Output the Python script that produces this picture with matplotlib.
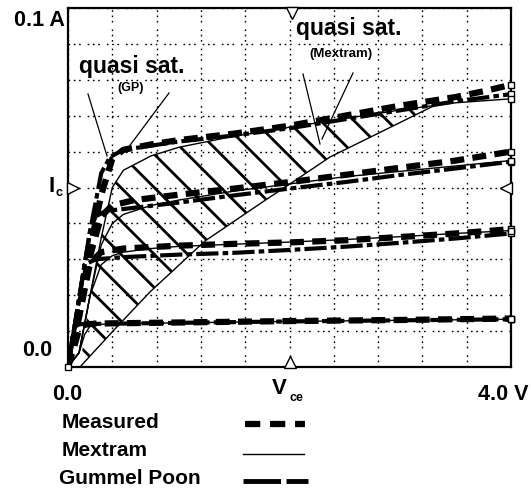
import numpy as np
import matplotlib
matplotlib.use("Agg")
import matplotlib.pyplot as plt

plt.rcParams['font.family'] = ['Liberation Sans', 'DejaVu Sans']
plt.rcParams['font.weight'] = 'bold'
plt.rcParams['lines.scale_dashes'] = False
plt.rcParams['hatch.linewidth'] = 2.0
plt.rcParams['hatch.color'] = 'black'

# Ic(Vce) curves, four base currents (A = lowest ... D = highest)
meas_a_v = [0, 0.05, 0.1, 0.15, 0.25, 0.5, 1.0, 2.0, 3.0, 4.0]
meas_a_i = [0, 0.005, 0.0105, 0.0118, 0.0121, 0.0122, 0.0124, 0.0128, 0.0131, 0.0135]
meas_b_v = [0, 0.1, 0.2, 0.3, 0.5, 1.0, 1.5, 2.0, 2.5, 3.0, 3.5, 4.0]
meas_b_i = [0, 0.014, 0.029, 0.032, 0.033, 0.0338, 0.0343, 0.0347, 0.0353, 0.0362, 0.0372, 0.0384]
meas_c_v = [0, 0.1, 0.2, 0.3, 0.4, 0.6, 1.0, 1.5, 2.0, 2.5, 3.0, 3.5, 4.0]
meas_c_i = [0, 0.014, 0.031, 0.042, 0.045, 0.0465, 0.048, 0.0497, 0.0515, 0.0535, 0.0555, 0.0575, 0.060]
meas_d_v = [0, 0.1, 0.2, 0.3, 0.4, 0.5, 0.75, 1.0, 1.5, 2.0, 2.5, 3.0, 3.5, 3.75, 4.0]
meas_d_i = [0, 0.016, 0.033, 0.048, 0.058, 0.0605, 0.062, 0.0632, 0.065, 0.0672, 0.070, 0.0728, 0.0752, 0.0768, 0.0786]

mex_a_v = [0, 0.1, 0.15, 0.2, 0.3, 0.5, 1.0, 2.0, 3.0, 4.0]
mex_a_i = [0, 0.004, 0.009, 0.0115, 0.0119, 0.0121, 0.0123, 0.0127, 0.0130, 0.0133]
mex_b_v = [0, 0.1, 0.2, 0.3, 0.4, 0.5, 0.75, 1.0, 1.5, 2.0, 2.5, 3.0, 3.5, 4.0]
mex_b_i = [0, 0.004, 0.02, 0.0285, 0.031, 0.032, 0.033, 0.0336, 0.0342, 0.0348, 0.0355, 0.0363, 0.0372, 0.038]
mex_c_v = [0, 0.1, 0.2, 0.3, 0.4, 0.5, 0.75, 1.0, 1.5, 2.0, 2.5, 3.0, 3.5, 4.0]
mex_c_i = [0, 0.004, 0.02, 0.034, 0.040, 0.0425, 0.045, 0.0465, 0.049, 0.051, 0.053, 0.0545, 0.056, 0.0575]
mex_d_v = [0, 0.1, 0.2, 0.3, 0.4, 0.5, 0.75, 1.0, 1.5, 2.0, 2.5, 3.0, 3.5, 4.0]
mex_d_i = [0, 0.004, 0.02, 0.036, 0.050, 0.0548, 0.0588, 0.0612, 0.0643, 0.0668, 0.0692, 0.0716, 0.0736, 0.0747]

gp_a_v = [0, 0.06, 0.1, 0.2, 0.5, 1.0, 2.0, 3.0, 4.0]
gp_a_i = [0, 0.0112, 0.0119, 0.012, 0.0121, 0.0123, 0.0127, 0.013, 0.0133]
gp_b_v = [0, 0.15, 0.25, 0.5, 1.0, 1.5, 2.0, 2.5, 3.0, 3.5, 4.0]
gp_b_i = [0, 0.0285, 0.030, 0.0306, 0.0313, 0.0318, 0.0326, 0.0335, 0.0346, 0.0358, 0.0372]
gp_c_v = [0, 0.1, 0.2, 0.25, 0.35, 0.5, 1.0, 1.5, 2.0, 2.5, 3.0, 3.5, 4.0]
gp_c_i = [0, 0.019, 0.038, 0.042, 0.0435, 0.044, 0.0458, 0.0478, 0.0497, 0.0515, 0.0535, 0.0553, 0.0572]
gp_d_v = [0, 0.1, 0.2, 0.3, 0.38, 0.5, 1.0, 1.5, 2.0, 2.5, 3.0, 3.5, 4.0]
gp_d_i = [0, 0.019, 0.038, 0.054, 0.0585, 0.0605, 0.0628, 0.0645, 0.0665, 0.069, 0.0715, 0.074, 0.076]

# lower edge of the Mextram quasi-saturation region
qs_v = [0.108, 0.424, 0.740, 1.237, 1.797, 2.005, 2.366, 2.880, 3.30]
qs_i = [0.0, 0.0106, 0.0209, 0.0351, 0.0468, 0.051, 0.0585, 0.0663, 0.0727]

fig = plt.figure(figsize=(5.31, 4.89), dpi=100)
ax = fig.add_axes([68/531, 1-368/489, 443/531, 359/489])
ax.set_xlim(0, 4.0)
ax.set_ylim(0, 0.1)
ax.set_xticks(np.arange(0, 4.01, 0.4))
ax.set_yticks(np.arange(0, 0.1001, 0.01))
ax.tick_params(length=0, labelbottom=False, labelleft=False)
ax.grid(True, color='black', lw=1.0, linestyle=(0, (1.2, 2.6, 1.2, 2.6, 1.2, 5)))
for s in ax.spines.values():
    s.set_linewidth(1.6)

# hatched quasi-saturation region
up_v = [v for v in mex_d_v if qs_v[0] < v < qs_v[-1]]
up_i = [i for v, i in zip(mex_d_v, mex_d_i) if qs_v[0] < v < qs_v[-1]]
poly_v = [qs_v[0]] + up_v + qs_v[::-1]
poly_i = [qs_i[0]] + up_i + qs_i[::-1]
ax.fill(poly_v, poly_i, facecolor='none', edgecolor='black', lw=0, hatch='\\', zorder=1)
ax.plot(qs_v, qs_i, color='black', lw=1.0, zorder=2)

meas = [(meas_a_v, meas_a_i), (meas_b_v, meas_b_i), (meas_c_v, meas_c_i), (meas_d_v, meas_d_i)]
mex = [(mex_a_v, mex_a_i), (mex_b_v, mex_b_i), (mex_c_v, mex_c_i), (mex_d_v, mex_d_i)]
gp = [(gp_a_v, gp_a_i), (gp_b_v, gp_b_i), (gp_c_v, gp_c_i), (gp_d_v, gp_d_i)]

for v, i in gp:
    ax.plot(v, i, color='black', lw=3.0, dashes=(16, 3, 4, 3), zorder=3)
    ax.plot(v[-1], i[-1], 's', ms=5, mfc='white', mec='black', mew=1, clip_on=False, zorder=6)
for v, i in meas:
    ax.plot(v, i, color='black', lw=4.5, dashes=(10, 6), zorder=4)
    ax.plot(v[-1], i[-1], 's', ms=5, mfc='white', mec='black', mew=1, clip_on=False, zorder=6)
for v, i in mex:
    ax.plot(v, i, color='black', lw=1.0, zorder=5)
    ax.plot(v[-1], i[-1], 's', ms=5, mfc='white', mec='black', mew=1, clip_on=False, zorder=6)
ax.plot(0, 0, 's', ms=5, mfc='white', mec='black', mew=1, clip_on=False, zorder=6)

# mid-scale triangle marks on the frame
tri = dict(ms=8, mfc='white', mec='black', mew=1, clip_on=False, transform=ax.transAxes, zorder=7)
ax.plot(0.012, 0.5, '>', **tri)
ax.plot(0.988, 0.5, '<', **tri)
ax.plot(0.505, 0.985, 'v', **tri)
ax.plot(0.5, 0.015, '^', **tri)

# overlay in pixel coordinates for labels and the key
ov = fig.add_axes([0, 0, 1, 1], facecolor='none')
ov.set_xlim(0, 531)
ov.set_ylim(489, 0)
ov.axis('off')

ov.text(65, 20, '0.1 A', fontsize=15.5, ha='right', va='center')
ov.text(48, 186, 'I', fontsize=16, ha='left', va='center')
ov.text(55, 193, 'c', fontsize=9, ha='left', va='center')
ov.text(52, 351, '0.0', fontsize=15.5, ha='right', va='center')
ov.text(52, 395, '0.0', fontsize=15.5, ha='left', va='center')
ov.text(272, 389, 'V', fontsize=16, ha='left', va='center')
ov.text(289, 398, 'ce', fontsize=9, ha='left', va='center')
ov.text(529, 395, '4.0 V', fontsize=15.5, ha='right', va='center')

ov.text(79, 66, 'quasi sat.', fontsize=16.5, ha='left', va='center')
ov.text(131, 88, '(GP)', fontsize=9, ha='center', va='center')
ov.plot([88, 107], [95, 157], color='black', lw=0.9)
ov.plot([169, 125], [94, 153], color='black', lw=0.9)

ov.text(349, 28, 'quasi sat.', fontsize=16.5, ha='center', va='center')
ov.text(341, 54, '(Mextram)', fontsize=9.5, ha='center', va='center')
ov.plot([303, 320], [75, 145], color='black', lw=0.9)
ov.plot([353, 322], [74, 140], color='black', lw=0.9)

ov.text(62, 423, 'Measured', fontsize=15, ha='left', va='center')
ov.text(62, 451, 'Mextram', fontsize=15, ha='left', va='center')
ov.text(59, 479, 'Gummel Poon', fontsize=15, ha='left', va='center')
ov.plot([245, 305], [425, 425], color='black', lw=4.5, dashes=(11, 7))
ov.plot([243, 304], [455, 455], color='black', lw=1.0)
ov.plot([243, 308], [482, 482], color='black', lw=3.5, dashes=(27, 4))

plt.savefig("out.png", dpi=100)
plt.close()
